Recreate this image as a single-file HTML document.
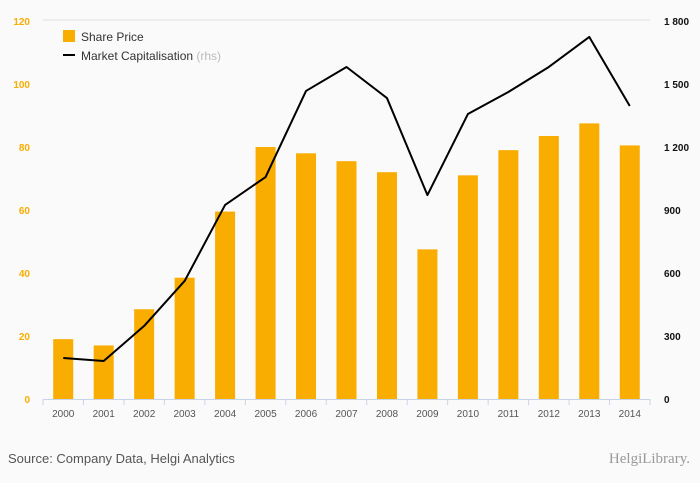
<!DOCTYPE html>
<html><head><meta charset="utf-8"><style>
body{margin:0;background:#fafafa;}
svg{display:block;font-family:"Liberation Sans",sans-serif;}
</style></head><body>
<svg id="c" width="700" height="483">
<rect x="0" y="0" width="700" height="483" fill="#fafafa"/>
<line x1="43" y1="20" x2="650" y2="20" stroke="#e0e0e0"/>
<g id="bars"></g><g id="axes"></g><g id="line"></g>
<g>
<rect x="63" y="30" width="12" height="12" fill="#f8ad00"/>
<text x="81" y="41" font-size="12" fill="#333">Share Price</text>
<line x1="63" y1="55" x2="75" y2="55" stroke="#000" stroke-width="2"/>
<text x="81" y="60" font-size="12" fill="#333">Market Capitalisation <tspan fill="#bbb">(rhs)</tspan></text>
</g>
<text x="8" y="463" font-size="13" fill="#555">Source: Company Data, Helgi Analytics</text>
<text x="690" y="463" font-size="15" fill="#999" text-anchor="end" font-family="Liberation Serif,serif">HelgiLibrary.</text>
</svg>
<script>
const years=["2000","2001","2002","2003","2004","2005","2006","2007","2008","2009","2010","2011","2012","2013","2014"];
const sharePrice=[19,17,28.5,38.5,59.5,80,78,75.5,72,47.5,71,79,83.5,87.5,80.5];
const marketCap=[195,181,348,562,924,1057,1467,1581,1433,971,1357,1462,1581,1724,1395];
const leftTicks=[0,20,40,60,80,100,120];
const rightTicks=[0,300,600,900,1200,1500,1800];
const rightLabels=["0","300","600","900","1 200","1 500","1 800"];
const NS="http://www.w3.org/2000/svg";
const x0=43,bw=(650-43)/years.length,yBase=399,yTop=21;
const xc=i=>x0+bw*(i+0.5);
const yl=v=>yBase-(v/120)*(yBase-yTop);
const yr=v=>yBase-(v/1800)*(yBase-yTop);
function mk(t,a,p){const e=document.createElementNS(NS,t);for(const k in a)e.setAttribute(k,a[k]);p.appendChild(e);return e;}
const bars=document.getElementById('bars'),axes=document.getElementById('axes'),line=document.getElementById('line');
sharePrice.forEach((v,i)=>{const r=mk('rect',{x:xc(i)-10,y:yl(v),width:20,height:yBase-yl(v),fill:'#f8ad00'},bars);

});
const ax=mk('line',{x1:x0,y1:yBase+0.5,x2:650,y2:yBase+0.5,stroke:'#c8d4e8'},axes);


years.forEach((y,i)=>{
const tk=mk('line',{x1:x0+bw*i,y1:yBase,x2:x0+bw*i,y2:yBase+6,stroke:'#c8d4e8'},axes);


const t=mk('text',{x:xc(i),y:417,'font-size':10,fill:'#555','text-anchor':'middle'},axes);t.textContent=y;

});
const tk=mk('line',{x1:650,y1:yBase,x2:650,y2:yBase+6,stroke:'#c8d4e8'},axes);


leftTicks.forEach(v=>{const t=mk('text',{x:30,y:yl(v)+4,'font-size':10,fill:'#f8ad00','text-anchor':'end','font-weight':'bold'},axes);t.textContent=v;

});
rightTicks.forEach((v,i)=>{const t=mk('text',{x:664,y:yr(v)+4,'font-size':10,fill:'#111','font-weight':'bold'},axes);t.textContent=rightLabels[i];

});
const p=mk('polyline',{points:marketCap.map((v,i)=>xc(i)+','+yr(v)).join(' '),fill:'none',stroke:'#000','stroke-width':2,'stroke-linejoin':'round'},line);


</script>
</body></html>
